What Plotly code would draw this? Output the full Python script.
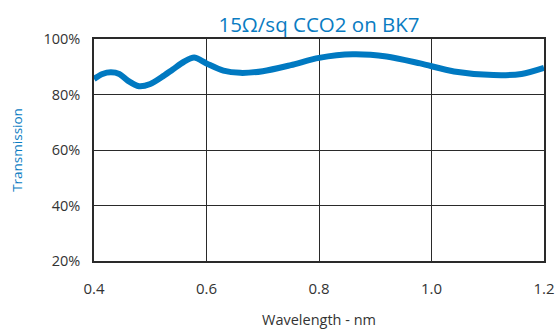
import plotly.graph_objects as go

wavelength = [0.40, 0.415, 0.43, 0.445, 0.46, 0.48, 0.50, 0.52, 0.54, 0.56, 0.578, 0.60,
              0.63, 0.66, 0.70, 0.75, 0.80, 0.86, 0.92, 0.98, 1.04, 1.11, 1.16, 1.20]
transmission = [85.6, 87.4, 88.0, 87.4, 85.0, 83.0, 83.8, 86.2, 89.0, 91.8, 93.3, 91.2,
                88.6, 87.8, 88.4, 90.6, 93.2, 94.5, 93.7, 91.2, 88.3, 87.0, 87.4, 89.6]
x_ticks = [0.4, 0.6, 0.8, 1.0, 1.2]
x_tick_labels = ["0.4", "0.6", "0.8", "1.0", "1.2"]
y_ticks = [20, 40, 60, 80, 100]
y_tick_labels = ["20%", "40%", "60%", "80%", "100%"]

blue = "#0a7cc2"
grid = "#2a2a2a"

fig = go.Figure()
fig.add_trace(go.Scatter(x=wavelength, y=transmission, mode="lines",
                         line=dict(color="#0079c1", width=6, shape="spline", smoothing=0.8),
                         hoverinfo="skip", showlegend=False, cliponaxis=False))

fig.update_layout(
    width=555, height=333,
    margin=dict(l=94, r=11, t=39, b=72, autoexpand=False),
    paper_bgcolor="white", plot_bgcolor="white",
    font=dict(family="Open Sans, sans-serif", color="#333333", size=13),
    title=dict(text="15Ω/sq CCO2 on BK7", x=0.5, xref="paper", xanchor="center",
               y=1 - 25 / 333, yref="container", yanchor="middle",
               font=dict(size=20.5, color=blue)),
    xaxis=dict(range=[0.4, 1.2], tickvals=x_ticks, ticktext=x_tick_labels,
               showgrid=True, gridcolor=grid, gridwidth=1.3,
               showline=True, linecolor=grid, linewidth=1.5, mirror=True,
               ticks="", ticklabelstandoff=13, zeroline=False, automargin=False,
               ticklabeloverflow="allow",
               tickfont=dict(size=15),
               title=dict(text="Wavelength - nm", font=dict(size=14.5, color="#333333"), standoff=18)),
    yaxis=dict(range=[20, 100], tickvals=y_ticks, ticktext=y_tick_labels,
               showgrid=True, gridcolor=grid, gridwidth=1.3,
               showline=True, linecolor=grid, linewidth=1.5, mirror=True,
               ticks="", ticklabelstandoff=9, zeroline=False, automargin=False,
               tickfont=dict(size=14.5),
               title=dict(text="Transmission", font=dict(size=13.5, color=blue), standoff=18)),
)

fig.write_html("out.html", config={"displayModeBar": False},
               post_script="document.body.style.margin='0';document.body.style.overflow='hidden';")
